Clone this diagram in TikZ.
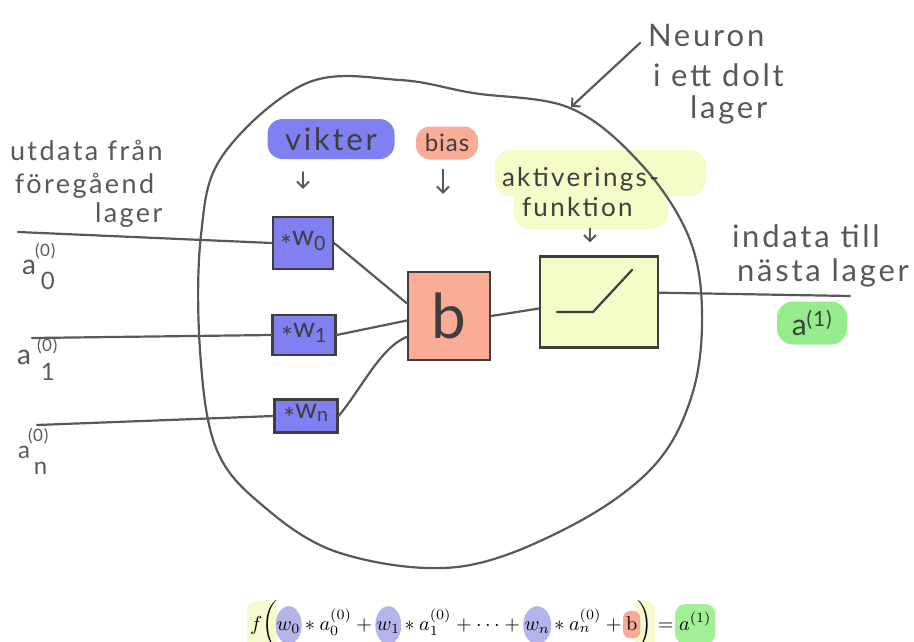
\documentclass[tikz,border=0pt]{standalone}
\usepackage{fontspec}
\newfontfamily\hand[LetterSpace=4]{Lato}
\newfontfamily\handwide[LetterSpace=9]{Lato}
\usetikzlibrary{arrows.meta,calc}

\definecolor{ink}{RGB}{88,88,88}
\definecolor{boxink}{RGB}{62,62,62}
\definecolor{wblue}{RGB}{128,128,242}
\definecolor{bsalmon}{RGB}{250,172,150}
\definecolor{fyellow}{RGB}{244,252,200}
\definecolor{agreen}{RGB}{150,236,140}
\definecolor{fblue}{RGB}{180,180,234}
\definecolor{fsalmon}{RGB}{248,170,150}
\definecolor{fgreen}{RGB}{162,240,150}
\definecolor{fyel}{RGB}{246,250,205}

\pgfdeclarelayer{background}
\pgfsetlayers{background,main}

\tikzset{
  pen/.style={draw=ink, line width=2.2pt, line cap=round, line join=round},
  barb/.style={-{Straight Barb[length=6pt,width=12pt,line width=2pt]}},
  label/.style={text=ink, inner sep=0pt, outer sep=0pt,
    font=\handwide\fontsize{31}{33}\selectfont},
  dark/.style={text=boxink},
  wbox/.style={draw=boxink, line width=2.2pt, fill=wblue, inner sep=0pt,
    text=boxink, font=\hand\fontsize{28}{30}\selectfont},
  tag/.style={draw=none, inner sep=0pt, rounded corners=15pt},
  piece/.style={inner sep=0pt, outer sep=0pt, anchor=base west},
}
\newcommand{\midstar}{\raisebox{-10pt}{*}}
\newcommand{\fpart}[1]{\scalebox{2.02}{$#1$}}

\begin{document}
\begin{tikzpicture}[x=1pt,y=-1pt]
\useasboundingbox (0,0) rectangle (914,641);

% ---------- neuron outline ----------
\draw[pen] plot[smooth cycle, tension=0.6] coordinates {
  (307,83) (400,80) (473,93) (570,108) (640,163) (688,235) (702,310)
  (692,395) (652,468) (567,528) (457,567) (340,553) (262,505) (216,448)
  (200,350) (201,235) (223,155)};

% ---------- title of the neuron ----------
\node[label, anchor=base west] (neuron1) at (648,46) {Neuron};
\node[label, anchor=base west] (neuron2) at (653,86) {i ett dolt};
\node[label, anchor=base west] (neuron3) at (690,118) {lager};
\coordinate (nstart) at (640,43);
\coordinate (rim) at (571,107);
\draw[pen, barb] (nstart) -- (rim);

% ---------- inputs ----------
\node[label, font=\handwide\fontsize{27}{29}\selectfont, anchor=base west] (out1) at (10,160) {utdata från};
\node[label, font=\handwide\fontsize{27}{29}\selectfont, anchor=base west] (out2) at (15,193) {föregåend};
\node[label, font=\handwide\fontsize{27}{29}\selectfont, anchor=base west] (out3) at (95,222) {lager};

\coordinate (in0) at (18,232);
\coordinate (in1) at (32,338);
\coordinate (in2) at (37,425);

\node[label, font=\hand\fontsize{28}{30}\selectfont, anchor=base west] (a0) at (22,274) {a};
\node[label, font=\hand\fontsize{17}{18}\selectfont, anchor=base west] (a0sup) at (35,256) {(0)};
\node[label, font=\hand\fontsize{24}{26}\selectfont, anchor=base west] (a0sub) at (41,289) {0};

\node[label, font=\hand\fontsize{28}{30}\selectfont, anchor=base west] (a1) at (17,364) {a};
\node[label, font=\hand\fontsize{17}{18}\selectfont, anchor=base west] (a1sup) at (37,351) {(0)};
\node[label, font=\hand\fontsize{24}{26}\selectfont, anchor=base west] (a1sub) at (41,380) {1};

\node[label, font=\hand\fontsize{17}{18}\selectfont, anchor=base west] (ansup) at (28,441) {(0)};
\node[label, font=\hand\fontsize{24}{26}\selectfont, anchor=base west] (an) at (18,458) {a};
\node[label, font=\hand\fontsize{24}{26}\selectfont, anchor=base west] (ansub) at (34,474) {n};

% ---------- weights ----------
\node[tag, fill=wblue, minimum width=127pt, minimum height=40pt, dark,
      font=\handwide\fontsize{31}{33}\selectfont] (vikter) at (331,139) {vikter};
\node[wbox, minimum width=60pt, minimum height=52pt] (w0) at (303,243) {\midstar w\textsubscript{0}};
\node[wbox, minimum width=63pt, minimum height=40pt] (w1) at (304,335) {\midstar w\textsubscript{1}};
\node[wbox, minimum width=63pt, minimum height=33pt] (wn) at (306,416) {\midstar w\textsubscript{n}};
\draw[pen, barb] ($(vikter.south -| w0.north)+(0,13)$) -- ($(w0.north)+(0,-27)$);

\draw[pen] (in0) -- (w0.west);
\draw[pen] (in1) -- (w1.west);
\draw[pen] (in2) -- (wn.west);

% ---------- bias ----------
\node[tag, fill=bsalmon, rounded corners=14pt, minimum width=62pt, minimum height=33pt,
      dark, font=\hand\fontsize{24}{26}\selectfont] (bias) at (447,143) {bias};
\node[draw=boxink, line width=2.2pt, fill=bsalmon, minimum width=82pt,
      minimum height=88pt, inner sep=0pt, text=boxink,
      font=\hand\fontsize{62}{64}\selectfont] (b) at (449,316) {b};
\draw[pen, barb] ($(bias.south)+(-4,10)$) -- ($(b.north)+(-6,-77)$);

\draw[pen] (w0.east) -- ($(b.north west)!0.36!(b.south west)$);
\draw[pen] (w1.east) -- ($(b.north west)!0.55!(b.south west)$);
\draw[pen] (wn.east) .. controls (362,388) and (380,348) .. ($(b.north west)!0.73!(b.south west)$);

% ---------- activation ----------
\begin{pgfonlayer}{background}
  \fill[fyellow, rounded corners=16pt] (495,150) rectangle (706,196);
  \fill[fyellow, rounded corners=16pt] (514,182) rectangle (668,229);
\end{pgfonlayer}
\node[label, dark, font=\handwide\fontsize{26}{28}\selectfont, anchor=base west] (akt1) at (502,186) {aktiverings-};
\node[label, dark, font=\handwide\fontsize{26}{28}\selectfont, anchor=base west] (akt2) at (522,216) {funktion};

\node[draw=boxink, line width=2.2pt, fill=fyellow, minimum width=118pt,
      minimum height=91pt, inner sep=0pt] (act) at (599,302) {};
\draw[pen, draw=boxink] ($(act.center)+(-42,10)$) -- ($(act.center)+(-6,10)$) -- ($(act.center)+(33,-32)$);
\draw[pen, barb] ($(act.north)+(-9,-27)$) -- ($(act.north)+(-9,-13)$);

\draw[pen] (b.east) -- ($(act.north west)!0.57!(act.south west)$);
\coordinate (outend) at (850,296);
\draw[pen] ($(act.north east)!0.4!(act.south east)$) -- (outend);

% ---------- output ----------
\node[label, anchor=base west] (next1) at (732,247) {indata till};
\node[label, anchor=base west] (next2) at (737,281) {nästa lager};
\node[tag, fill=agreen, minimum width=70pt, minimum height=43pt, rounded corners=16pt,
      dark, font=\hand\fontsize{30}{32}\selectfont] (aout) at (812,323)
      {a\textsuperscript{(1)}};

% ---------- formula ----------
\node[piece] (ff) at (250,630) {\fpart{f\bigg(}};
\node[piece] (fw0) at (ff.base east) {\fpart{w_0}};
\node[piece] (fa0) at (fw0.base east) {\fpart{{}*a_0^{(0)}+{}}};
\node[piece] (fw1) at (fa0.base east) {\fpart{w_1}};
\node[piece] (fa1) at (fw1.base east) {\fpart{{}*a_1^{(0)}+\cdots+{}}};
\node[piece] (fwn) at (fa1.base east) {\fpart{w_n}};
\node[piece] (fan) at (fwn.base east) {\fpart{{}*a_n^{(0)}+{}}};
\node[piece] (fb) at (fan.base east) {\fpart{\mathrm{b}}};
\node[piece] (fclose) at (fb.base east) {\fpart{\bigg)}};
\node[piece] (feq) at (fclose.base east) {\fpart{{}={}}};
\node[piece] (fres) at (feq.base east) {\fpart{a^{(1)}}};

\begin{pgfonlayer}{background}
  \fill[fyel, rounded corners=10pt] ($(ff.north west)+(-3,0)$) rectangle ($(ff.south east)+(0,6)$);
  \fill[fyel, rounded corners=10pt] ($(fclose.north west)+(-3,0)$) rectangle ($(fclose.south east)+(3,6)$);
  \fill[fblue] ($(fw0.center)+(0,-2)$) ellipse [x radius=13pt, y radius=19pt];
  \fill[fblue] ($(fw1.center)+(0,-2)$) ellipse [x radius=13pt, y radius=19pt];
  \fill[fblue] ($(fwn.center)+(0,-2)$) ellipse [x radius=14pt, y radius=19pt];
  \fill[fsalmon, rounded corners=7pt] ($(fb.north west)+(-3,-5)$) rectangle ($(fb.south east)+(3,8)$);
  \fill[fgreen, rounded corners=10pt] ($(fres.north west)+(-4,-8)$) rectangle ($(fres.south east)+(4,14)$);
\end{pgfonlayer}
\end{tikzpicture}
\end{document}
